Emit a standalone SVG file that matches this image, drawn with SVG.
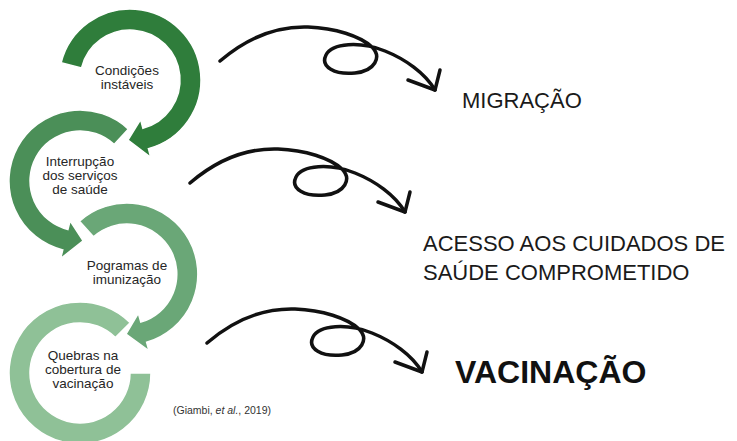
<svg xmlns="http://www.w3.org/2000/svg" width="737" height="441" viewBox="0 0 737 441">
  <style>
    .lbl { font-family: "Liberation Sans", Arial, sans-serif; font-size: 13.5px; fill: #262626; text-anchor: middle; }
    .big { font-family: "Liberation Sans", Arial, sans-serif; font-size: 22px; fill: #1a1a1a; }
    .bold { font-family: "Liberation Sans", Arial, sans-serif; font-size: 32px; font-weight: bold; fill: #111; }
    .cite { font-family: "Liberation Sans", Arial, sans-serif; font-size: 10.5px; fill: #333; }
    .ring { stroke: #fff; stroke-width: 1.5; stroke-linejoin: miter; }
    .curl { fill: none; stroke: #111; stroke-width: 3.5; stroke-linecap: round; stroke-linejoin: round; }
  </style>
  <defs>
    <g id="curlArrow">
      <path class="curl" d="M0,0 C28,-24 58,-35 88,-34 C115,-33 140,-25 152,-14 C162,-4 155,10 135,12 C115,14 100,6 106,-6 C112,-18 140,-20 165,-10 C185,-2 205,12 215,29"/>
      <path class="curl" d="M188,19 L215,29 L220,9"/>
    </g>
  </defs>
  <rect width="737" height="441" fill="#fff"/>

  <g id="node-quebras">
    <path class="ring" fill="#8fc197" d="M130.2,322.8 A71,71 0 1 0 151,373 L130,373 A50,50 0 1 1 115.4,337.6 Z"/>
    <text class="lbl" x="83" y="360">Quebras na</text>
    <text class="lbl" x="83" y="374">cobertura de</text>
    <text class="lbl" x="83" y="388">vacinação</text>
  </g>

  <g id="node-programas">
    <path class="ring" fill="#6aa777" d="M79.5,221.2 A71,71 0 1 1 146.6,342.3 L149,350.9 L126,334 L138.3,313.4 L140.8,322.1 A50,50 0 1 0 93.5,236.8 Z"/>
    <text class="lbl" x="127" y="270">Pogramas de</text>
    <text class="lbl" x="127" y="284">imunização</text>
  </g>

  <g id="node-interrupcao">
    <path class="ring" fill="#4b8f58" d="M128.4,129.1 A71,71 0 1 0 62.8,249.9 L60.6,258.6 L83.1,240.9 L70.1,220.8 L67.9,229.5 A50,50 0 1 1 114.1,144.4 Z"/>
    <text class="lbl" x="80" y="166">Interrupção</text>
    <text class="lbl" x="80" y="180">dos serviços</text>
    <text class="lbl" x="80" y="194">de saúde</text>
  </g>

  <g id="node-condicoes">
    <path class="ring" fill="#2f7d3b" d="M61.1,62.8 A71,71 0 1 1 148.4,148.6 L150.7,157.3 L128,140 L140.6,119.6 L142.9,128.3 A50,50 0 1 0 81.5,67.9 Z"/>
    <text class="lbl" x="127" y="75">Condições</text>
    <text class="lbl" x="127" y="89">instáveis</text>
  </g>

  <g id="connectors">
    <use href="#curlArrow" transform="translate(220,61)"/>
    <use href="#curlArrow" transform="translate(190,183)"/>
    <use href="#curlArrow" transform="translate(207,343)"/>
  </g>

  <g id="node-migracao">
    <text class="big" x="462" y="108">MIGRAÇÃO</text>
  </g>
  <g id="node-acesso">
    <text class="big" x="423" y="251">ACESSO AOS CUIDADOS DE</text>
    <text class="big" x="423" y="280">SAÚDE COMPROMETIDO</text>
  </g>
  <g id="node-vacinacao">
    <text class="bold" x="455" y="383">VACINAÇÃO</text>
  </g>

  <text class="cite" x="173" y="414">(Giambi, <tspan font-style="italic">et al.</tspan>, 2019)</text>
</svg>
